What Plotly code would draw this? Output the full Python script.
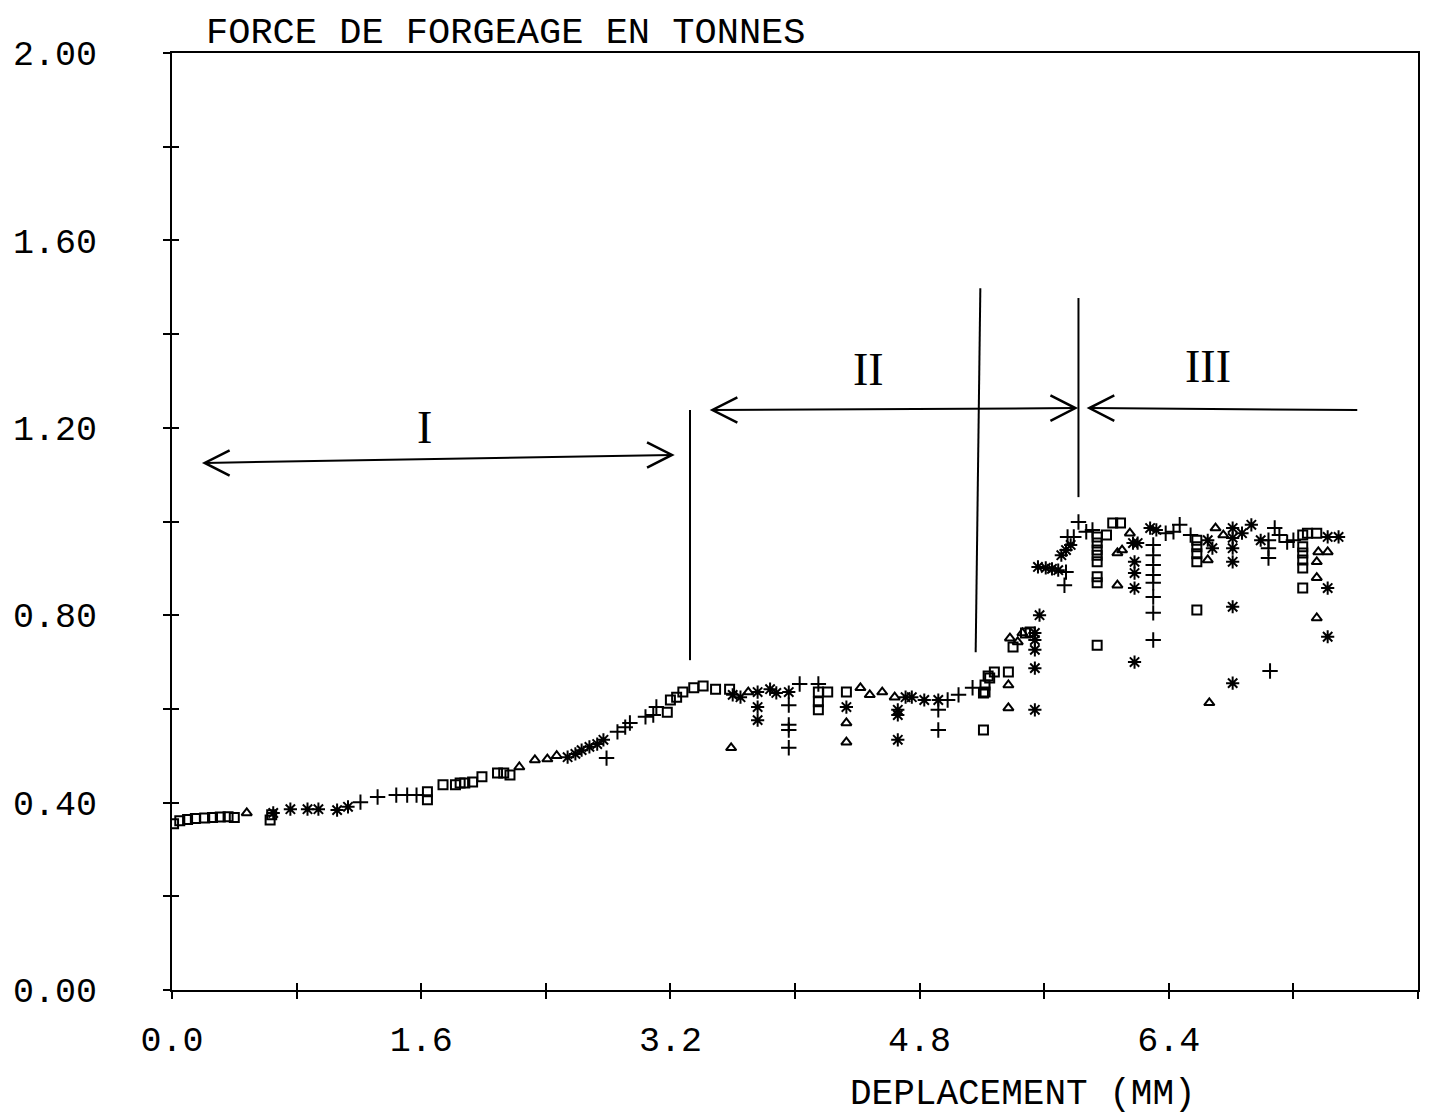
import plotly.graph_objects as go

# ---------------- data ----------------
sq_x = [0.01, 0.05, 0.10, 0.15, 0.21, 0.26, 0.31, 0.36, 0.40, 0.63, 0.64,
        1.64, 1.64, 1.74, 1.82, 1.85, 1.88, 1.93, 1.99, 2.09, 2.13, 2.17,
        3.18, 3.20, 3.24, 3.28, 3.35, 3.41, 3.49, 3.58,
        4.15, 4.15, 4.15, 4.21, 4.33,
        5.21, 5.21, 5.22, 5.22, 5.24, 5.25, 5.28, 5.37, 5.40, 5.48, 5.51,
        5.94, 5.94, 5.94, 5.94, 5.94, 5.94, 5.94, 5.94, 6.00, 6.04, 6.09,
        6.58, 6.58, 6.58, 6.58, 6.58,
        7.26, 7.29, 7.35, 7.26, 7.26, 7.26, 7.26, 7.26]
sq_y = [0.355, 0.361, 0.364, 0.366, 0.367, 0.368, 0.369, 0.370, 0.368, 0.363, 0.374,
        0.423, 0.406, 0.438, 0.438, 0.442, 0.442, 0.444, 0.455, 0.463, 0.463, 0.459,
        0.593, 0.619, 0.625, 0.636, 0.645, 0.649, 0.642, 0.642,
        0.636, 0.615, 0.598, 0.636, 0.636,
        0.555, 0.634, 0.651, 0.636, 0.670, 0.666, 0.679, 0.679, 0.732, 0.762, 0.764,
        0.967, 0.954, 0.939, 0.928, 0.914, 0.882, 0.869, 0.736, 0.971, 0.997, 0.997,
        0.960, 0.946, 0.931, 0.914, 0.811,
        0.971, 0.975, 0.975, 0.946, 0.933, 0.918, 0.901, 0.858]

pl_x = [1.21, 1.32, 1.44, 1.51, 1.57,
        2.79, 2.86, 2.91, 2.94, 3.04, 3.09, 3.11,
        3.96, 3.96, 3.96, 3.96, 4.03, 4.15,
        4.92, 4.92, 4.98, 5.05, 5.14,
        5.73, 5.74, 5.75, 5.79, 5.82, 5.87, 5.91,
        6.30, 6.30, 6.30, 6.30, 6.30, 6.30, 6.30, 6.30,
        6.38, 6.43, 6.47, 6.54,
        7.04, 7.04, 7.04, 7.08, 7.11, 7.05, 7.16, 7.20]
pl_y = [0.401, 0.412, 0.416, 0.416, 0.416,
        0.495, 0.551, 0.561, 0.570, 0.583, 0.587, 0.604,
        0.608, 0.566, 0.555, 0.517, 0.653, 0.653,
        0.598, 0.555, 0.619, 0.630, 0.645,
        0.864, 0.892, 0.967, 0.967, 0.999, 0.978, 0.982,
        0.950, 0.928, 0.907, 0.886, 0.869, 0.839, 0.805, 0.747,
        0.975, 0.978, 0.993, 0.971,
        0.960, 0.943, 0.922, 0.986, 0.971, 0.681, 0.956, 0.960]

tr_x = [0.48, 2.23, 2.33, 2.41, 2.47,
        3.59, 3.70, 4.33, 4.33, 4.42, 4.48, 4.56, 4.64,
        5.37, 5.37, 5.38, 5.46, 5.43,
        6.15, 6.07, 6.10, 6.07,
        6.70, 6.75, 6.65, 6.66,
        7.36, 7.42, 7.35, 7.35, 7.35]
tr_y = [0.378, 0.476, 0.491, 0.493, 0.500,
        0.517, 0.636, 0.570, 0.529, 0.645, 0.630, 0.636, 0.625,
        0.651, 0.602, 0.751, 0.762, 0.743,
        0.975, 0.933, 0.939, 0.864,
        0.986, 0.971, 0.918, 0.613,
        0.935, 0.935, 0.914, 0.880, 0.794]

as_x = [0.65, 0.76, 0.87, 0.94, 1.06, 1.13,
        2.54, 2.59, 2.63, 2.68, 2.73, 2.77,
        3.60, 3.65, 3.76, 3.76, 3.76, 3.84, 3.88, 3.96,
        4.33, 4.66, 4.66, 4.66, 4.71, 4.75, 4.83, 4.92,
        5.54, 5.54, 5.54, 5.54, 5.54, 5.57,
        5.56, 5.61, 5.65, 5.69, 5.71, 5.74, 5.77,
        6.17, 6.20, 6.18, 6.18, 6.18, 6.18, 6.28, 6.32,
        6.65, 6.68,
        6.81, 6.81, 6.81, 6.81, 6.81, 6.81, 6.87, 6.93, 6.99,
        7.42, 7.49, 7.42, 7.42]
as_y = [0.378, 0.386, 0.386, 0.386, 0.384, 0.391,
        0.497, 0.504, 0.512, 0.519, 0.525, 0.534,
        0.630, 0.625, 0.636, 0.604, 0.576, 0.642, 0.634, 0.636,
        0.604, 0.598, 0.587, 0.534, 0.625, 0.625, 0.619, 0.619,
        0.598, 0.687, 0.726, 0.747, 0.762, 0.800,
        0.903, 0.901, 0.899, 0.896, 0.928, 0.939, 0.950,
        0.954, 0.954, 0.914, 0.890, 0.858, 0.700, 0.986, 0.982,
        0.960, 0.943,
        0.986, 0.965, 0.943, 0.914, 0.818, 0.655, 0.975, 0.993, 0.960,
        0.967, 0.967, 0.858, 0.754]

x_tick_vals = [0.0, 0.8, 1.6, 2.4, 3.2, 4.0, 4.8, 5.6, 6.4, 7.2, 8.0]
x_tick_text = ["0.0", "", "1.6", "", "3.2", "", "4.8", "", "6.4", "", "8.0"]
y_tick_vals = [0.0, 0.2, 0.4, 0.6, 0.8, 1.0, 1.2, 1.4, 1.6, 1.8, 2.0]
y_tick_text = ["0.00", "", "0.40", "", "0.80", "", "1.20", "", "1.60", "", "2.00"]

# zone annotations (hand-drawn dividers / arrows), in data units
div_lines = [((3.326, 0.704), (3.326, 1.238)),
             ((5.16, 0.721), (5.19, 1.498)),
             ((5.82, 1.052), (5.82, 1.477))]
arrow_shafts = [((0.21, 1.125), (3.21, 1.142)),
                ((3.47, 1.238), (5.80, 1.242)),
                ((5.89, 1.242), (7.61, 1.238))]
# (tip x, tip y, direction) ; direction -1 = points left, +1 = points right
arrow_heads = [(0.21, 1.125, -1), (3.21, 1.142, 1),
               (3.47, 1.238, -1), (5.80, 1.242, 1),
               (5.89, 1.242, -1)]
zone_labels = [("I", 1.62, 1.20), ("II", 4.47, 1.325), ("III", 6.65, 1.330)]

MONO = "Liberation Mono, Courier New, monospace"

fig = go.Figure()
mk_line = dict(color="black", width=2)
fig.add_trace(go.Scatter(x=sq_x, y=sq_y, mode="markers", name="a",
                         marker=dict(symbol="square-open", size=9, color="black", line=mk_line)))
fig.add_trace(go.Scatter(x=pl_x, y=pl_y, mode="markers", name="b",
                         marker=dict(symbol="cross-thin-open", size=11, color="black", line=mk_line)))
fig.add_trace(go.Scatter(x=tr_x, y=tr_y, mode="markers", name="c",
                         marker=dict(symbol="triangle-up-open", size=9, color="black", line=mk_line)))
fig.add_trace(go.Scatter(x=as_x, y=as_y, mode="markers", name="d",
                         marker=dict(symbol="asterisk-open", size=11, color="black",
                                     line=dict(color="black", width=2))))

shapes = []
for (x0, y0), (x1, y1) in div_lines + arrow_shafts:
    shapes.append(dict(type="line", xref="x", yref="y", x0=x0, y0=y0, x1=x1, y1=y1,
                       line=dict(color="black", width=2)))
hx, hy = 0.16, 0.027
for tx, ty, d in arrow_heads:
    bx = tx - d * hx
    shapes.append(dict(type="path", xref="x", yref="y",
                       path=f"M {bx},{ty + hy} L {tx},{ty} L {bx},{ty - hy}",
                       line=dict(color="black", width=2.5)))

annotations = []
for txt, lx, ly in zone_labels:
    annotations.append(dict(text=txt, x=lx, y=ly, xref="x", yref="y", showarrow=False,
                            font=dict(family="Liberation Serif, serif", size=46, color="black")))
annotations.append(dict(text="FORCE DE FORGEAGE EN TONNES", xref="paper", yref="paper",
                        x=0.026, y=1.0, xanchor="left", yanchor="bottom", yshift=-3,
                        showarrow=False, font=dict(family=MONO, size=37, color="black")))
annotations.append(dict(text="DEPLACEMENT (MM)", xref="paper", yref="paper",
                        x=0.683, y=0, xanchor="center", yanchor="middle", yshift=-104,
                        showarrow=False, font=dict(family=MONO, size=36, color="black")))

axis_common = dict(showgrid=False, zeroline=False, showline=True, linecolor="black",
                   linewidth=2, ticks="outside", ticklen=7, tickwidth=1.5, tickcolor="black",
                   automargin=False,
                   tickfont=dict(family=MONO, size=35, color="black"))

fig.update_layout(
    width=1440, height=1110,
    margin=dict(l=164, r=30, t=45, b=128),
    paper_bgcolor="white", plot_bgcolor="white",
    showlegend=False,
    xaxis=dict(range=[0, 8], tickvals=x_tick_vals, ticktext=x_tick_text,
               mirror=True, ticklabelstandoff=10, **axis_common),
    yaxis=dict(range=[0, 2], tickvals=y_tick_vals, ticktext=y_tick_text,
               mirror=True, ticklabelstandoff=59, **axis_common),
    xaxis2=dict(range=[0, 8], overlaying="x", anchor="y", side="bottom",
                tickvals=x_tick_vals, showticklabels=False, showgrid=False, zeroline=False,
                showline=False, ticks="inside", ticklen=7, tickwidth=1.5, tickcolor="black"),
    yaxis2=dict(range=[0, 2], overlaying="y", anchor="x", side="left",
                tickvals=y_tick_vals, showticklabels=False, showgrid=False, zeroline=False,
                showline=False, ticks="inside", ticklen=7, tickwidth=1.5, tickcolor="black"),
    shapes=shapes, annotations=annotations,
)
# invisible helper trace so the overlay axes get drawn
fig.add_trace(go.Scatter(x=[None], y=[None], xaxis="x2", yaxis="y2", showlegend=False,
                         hoverinfo="skip"))

fig.write_html("out.html")
